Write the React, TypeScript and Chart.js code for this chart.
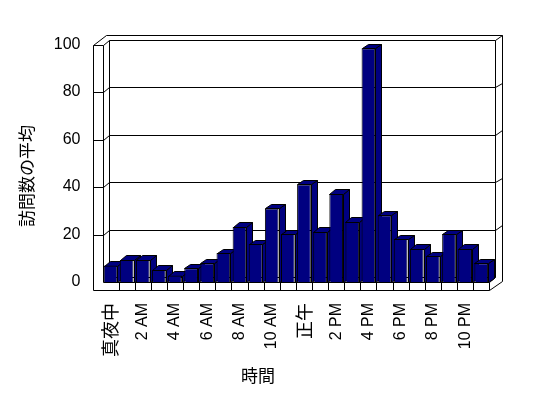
import React, { useEffect, useRef } from 'react';
import { Chart, registerables } from 'chart.js';

Chart.register(...registerables);

// ---- data ----
const hours = [
  '真夜中', '1 AM', '2 AM', '3 AM', '4 AM', '5 AM', '6 AM', '7 AM', '8 AM', '9 AM', '10 AM', '11 AM',
  '正午', '1 PM', '2 PM', '3 PM', '4 PM', '5 PM', '6 PM', '7 PM', '8 PM', '9 PM', '10 PM', '11 PM',
];
const avgVisits = [
  6.9, 9.3, 9.3, 5.1, 2.7, 5.8, 7.9, 12.2, 23.2, 16.0, 31.0, 20.2,
  41.1, 21.1, 37.1, 25.3, 98.4, 28.1, 18.1, 13.9, 10.9, 20.2, 13.9, 7.9,
];
const valueTicks = [0, 20, 40, 60, 80, 100];
const yAxisTitle = '訪問数の平均';
const xAxisTitle = '時間';

// ---- style ----
const NAVY = '#000080';
const LATIN = '"Liberation Sans", Arial, sans-serif';
const CJK = '"Noto Sans CJK JP", "Noto Sans CJK SC", sans-serif';
const depth = { dx: 6, dy: -5 };
const wallT = { dx: 6.5, dy: -4.5 };
const barDepth = { dx: 6, dy: -4.5 };
const sideW = 9.5;
const floorH = 8;

const px = (v: number) => Math.round(v) + 0.5;

function polyline(ctx: CanvasRenderingContext2D, pts: number[][]) {
  ctx.beginPath();
  ctx.moveTo(px(pts[0][0]), px(pts[0][1]));
  for (let i = 1; i < pts.length; i++) ctx.lineTo(px(pts[i][0]), px(pts[i][1]));
  ctx.stroke();
}
function polygon(ctx: CanvasRenderingContext2D, pts: number[][], fill: string) {
  ctx.beginPath();
  ctx.moveTo(px(pts[0][0]), px(pts[0][1]));
  for (let i = 1; i < pts.length; i++) ctx.lineTo(px(pts[i][0]), px(pts[i][1]));
  ctx.closePath();
  ctx.fillStyle = fill;
  ctx.fill();
  ctx.stroke();
}

const isCJK = (s: string) => /[\u3000-\u9fff]/.test(s);

const threeD = {
  id: 'threeD',
  beforeDraw(chart: any) {
    const { ctx, width, height } = chart;
    ctx.save();
    ctx.fillStyle = '#fff';
    ctx.fillRect(0, 0, width, height);
    ctx.restore();
  },
  beforeDatasetsDraw(chart: any) {
    const { ctx, chartArea } = chart;
    const { left: L, right: R, top: T, bottom: B } = chartArea;
    const ys = chart.scales.y;
    const xs = chart.scales.x;
    const bx = depth.dx, by = depth.dy;
    const ox = bx + wallT.dx, oy = by + wallT.dy;
    ctx.save();
    ctx.strokeStyle = '#000';
    ctx.lineWidth = 1;
    // side wall front face + floor front face
    polyline(ctx, [[L - sideW, T], [L - sideW, B + floorH], [R, B + floorH], [R, B]]);
    polyline(ctx, [[L - sideW, T], [L, T], [L, B], [R, B]]);
    // top outline of walls
    polyline(ctx, [[L - sideW, T], [L - sideW + ox, T + oy], [R + ox, T + oy], [R + ox, B + floorH + oy], [R, B + floorH]]);
    // side wall inner face & back wall face
    polyline(ctx, [[L, T], [L + bx, T + by], [R + bx, T + by], [R + bx, B + by], [L + bx, B + by], [L + bx, T + by]]);
    polyline(ctx, [[R, B], [R + bx, B + by]]);
    polyline(ctx, [[R + bx, T + by], [R + ox, T + oy]]);
    // gridlines
    valueTicks.forEach((v) => {
      if (v === 0 || v === 100) return;
      const yy = ys.getPixelForValue(v);
      polyline(ctx, [[L - sideW, yy], [L, yy], [L + bx, yy + by], [R + bx, yy + by], [R + ox, yy + oy]]);
    });
    // category ticks on floor front
    for (let i = 1; i < hours.length; i++) {
      const xb = (xs.getPixelForValue(i - 1) + xs.getPixelForValue(i)) / 2;
      polyline(ctx, [[xb, B], [xb, B + floorH]]);
    }
    // bar side and top faces
    const meta = chart.getDatasetMeta(0);
    meta.data.forEach((bar: any) => {
      const { x, y, base, width: w } = bar.getProps(['x', 'y', 'base', 'width'], true);
      const x0 = x - w / 2, x1 = x + w / 2;
      polygon(ctx, [[x1, y], [x1 + barDepth.dx, y + barDepth.dy], [x1 + barDepth.dx, base + barDepth.dy], [x1, base]], NAVY);
      polygon(ctx, [[x0, y], [x0 + barDepth.dx, y + barDepth.dy], [x1 + barDepth.dx, y + barDepth.dy], [x1, y]], NAVY);
    });
    ctx.restore();
  },
  afterDraw(chart: any) {
    const { ctx } = chart;
    ctx.save();
    ctx.fillStyle = '#000';
    ctx.font = `17px ${CJK}`;
    ctx.textAlign = 'center';
    ctx.textBaseline = 'middle';
    ctx.fillText(xAxisTitle, 258, 376);
    ctx.translate(27, 176);
    ctx.rotate(-Math.PI / 2);
    ctx.fillText(yAxisTitle, 0, 0);
    ctx.restore();
  },
};

export default function App() {
  const ref = useRef<HTMLCanvasElement>(null);
  useEffect(() => {
    const chart = new Chart(ref.current as HTMLCanvasElement, {
      type: 'bar',
      data: {
        labels: hours,
        datasets: [
          {
            data: avgVisits,
            backgroundColor: NAVY,
            borderColor: '#000',
            borderWidth: 1,
            categoryPercentage: 1,
            barPercentage: 0.85,
          },
        ],
      },
      options: {
        responsive: false,
        animation: false,
        events: [],
        layout: { padding: { left: 0, right: 58.7, top: 44.5, bottom: 0 } },
        plugins: { legend: { display: false }, tooltip: { enabled: false }, title: { display: false } },
        scales: {
          x: {
            grid: { display: false, drawTicks: false },
            border: { display: false },
            ticks: {
              autoSkip: false,
              maxRotation: 90,
              minRotation: 90,
              padding: 21,
              color: '#000',
              callback: (_v: any, i: number) => (i % 2 === 0 ? hours[i] : ''),
              font: (c: any) => (isCJK(hours[c.index] || '') ? { family: CJK, size: 18 } : { family: LATIN, size: 16 }),
            },
            afterFit: (s: any) => {
              s.height = 116;
            },
          },
          y: {
            min: 0,
            max: 100,
            grid: { display: false, drawTicks: false },
            border: { display: false },
            ticks: { stepSize: 20, padding: 22, color: '#000', font: { family: LATIN, size: 16 } },
            afterFit: (s: any) => {
              s.width = 102.5;
            },
          },
        },
      },
      plugins: [threeD],
    } as any);
    return () => chart.destroy();
  }, []);
  return (
    <div style={{ position: 'absolute', left: 0, top: 0, width: 548, height: 398, background: '#fff' }}>
      <canvas ref={ref} width={548} height={398} style={{ display: 'block', width: 548, height: 398 }} />
    </div>
  );
}
